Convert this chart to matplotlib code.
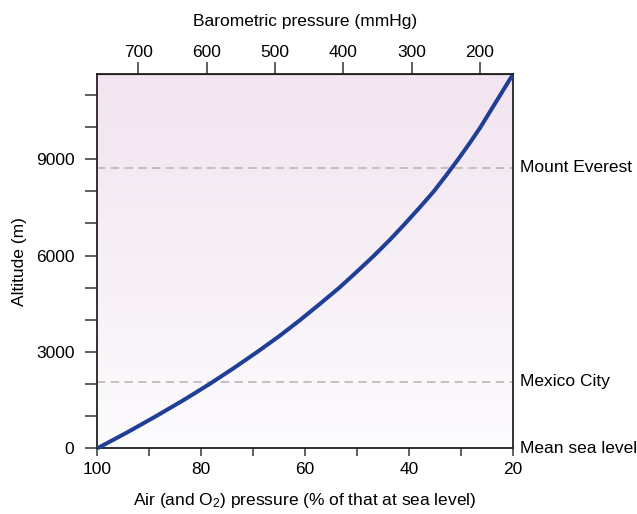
import numpy as np
import matplotlib
matplotlib.use("Agg")
import matplotlib.pyplot as plt
from matplotlib.ticker import MultipleLocator
from matplotlib.colors import LinearSegmentedColormap
import matplotlib.transforms as mtransforms

plt.rcParams['font.family'] = ['Liberation Sans', 'DejaVu Sans']
plt.rcParams['mathtext.fontset'] = 'custom'
plt.rcParams['mathtext.rm'] = 'Liberation Sans'
plt.rcParams['mathtext.it'] = 'Liberation Sans:italic'

# altitude (m) vs air pressure (% of sea level)
altitude = [0, 500, 1000, 1500, 2000, 2500, 3000, 3500, 4000, 4500, 5000, 5500,
            6000, 6500, 7000, 7500, 8000, 8500, 9000, 9500, 10000, 10500,
            11000, 11500, 11600]
pressure_pct = [100, 94.2, 88.7, 83.4, 78.4, 73.7, 69.2, 64.9, 60.9, 57.1,
                53.4, 50.0, 46.7, 43.6, 40.7, 37.9, 35.2, 32.8, 30.5, 28.3,
                26.2, 24.3, 22.4, 20.5, 20.1]

places = ["Mount Everest", "Mexico City"]
place_alt = [8730, 2070]

mmhg_ticks = [700, 600, 500, 400, 300, 200]
SEA_LEVEL_MMHG = 760.0

FS = 12.5

fig = plt.figure(figsize=(6.37, 5.14), dpi=100)
ax = fig.add_axes([0.1528, 0.1278, 0.6522, 0.7276])

x_lo, x_hi = 100, 20
y_lo, y_hi = 0, 11640

# soft background gradient
cmap = LinearSegmentedColormap.from_list("bg", ["#fcfbfd", "#f2e4f0"])
grad = np.linspace(0, 1, 256).reshape(-1, 1)
ax.imshow(grad, cmap=cmap, aspect="auto", origin="lower",
          extent=[x_lo, x_hi, y_lo, y_hi], zorder=0)

for a in place_alt:
    ax.axhline(a, color="#b3b3b3", lw=1.1, dashes=(5.5, 3.5), zorder=1)

ax.plot(pressure_pct, altitude, color="#1f3f96", lw=2.9,
        solid_capstyle="butt", solid_joinstyle="round", zorder=3,
        clip_on=False)

ax.set_xlim(x_lo, x_hi)
ax.set_ylim(y_lo, y_hi)

ax.xaxis.set_major_locator(MultipleLocator(20))
ax.xaxis.set_minor_locator(MultipleLocator(10))
ax.yaxis.set_major_locator(MultipleLocator(3000))
ax.yaxis.set_minor_locator(MultipleLocator(1000))

ax.tick_params(axis="x", which="both", length=6, width=1.1, color="#333333",
               labelsize=FS, pad=4)
ax.tick_params(axis="y", which="both", length=8.5, width=1.1, color="#333333",
               labelsize=FS, pad=8)

for s in ax.spines.values():
    s.set_linewidth(1.3)
    s.set_color("#222222")

ax.set_xlabel("Air (and O$_2$) pressure (% of that at sea level)",
              fontsize=FS, labelpad=10)
ax.set_ylabel("Altitude (m)", fontsize=FS, labelpad=6)

# barometric pressure on top
top = ax.secondary_xaxis("top", functions=(lambda p: p * SEA_LEVEL_MMHG / 100,
                                           lambda m: m * 100 / SEA_LEVEL_MMHG))
top.set_xticks(mmhg_ticks)
top.tick_params(length=8.5, width=1.1, color="#333333", labelsize=FS, pad=1.5)
top.set_xlabel("Barometric pressure (mmHg)", fontsize=FS, labelpad=14)

# right-hand labels
trans = mtransforms.blended_transform_factory(ax.transAxes, ax.transData)
for name, a in zip(places, place_alt):
    ax.text(1.0176, a, name, transform=trans, ha="left", va="center",
            fontsize=FS)
ax.text(1.0176, 0, "Mean sea level", transform=trans, ha="left",
        va="center", fontsize=FS)

fig.savefig("out.png", dpi=100)
